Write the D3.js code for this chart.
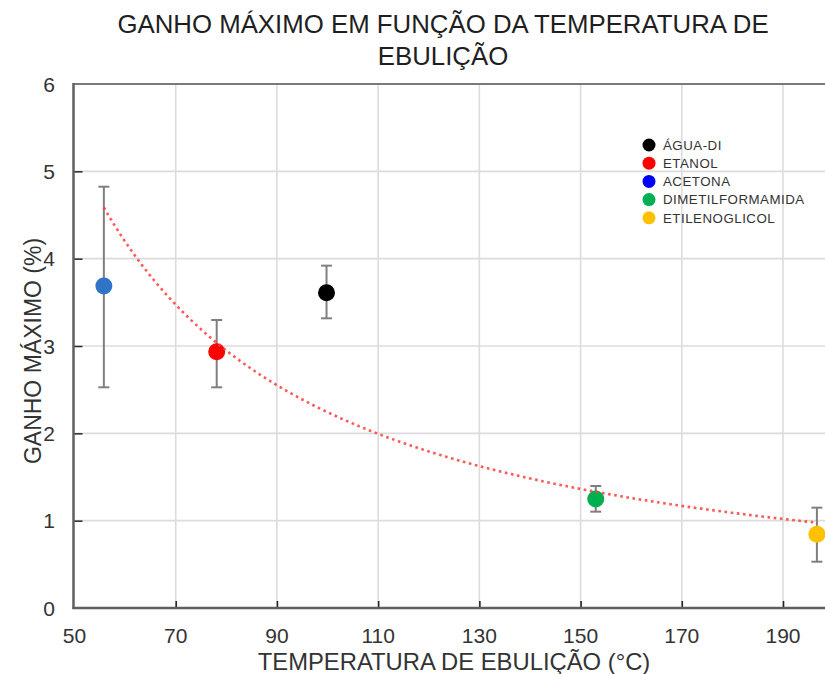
<!DOCTYPE html>
<html><head><meta charset="utf-8">
<script src="https://cdn.jsdelivr.net/npm/d3@7"></script>
<style>
body{margin:0;background:#fff}
svg{display:block}
text{font-family:"Liberation Sans",Arial,Helvetica,sans-serif}
</style>
</head><body>
<svg id="chart" width="825" height="674"></svg>
<script>
// ---- data ----
const categories = ["ÁGUA-DI", "ETANOL", "ACETONA", "DIMETILFORMAMIDA", "ETILENOGLICOL"];
const boilingPoints = [99.8, 78.1, 55.8, 153.0, 196.7];
const gains = [3.61, 2.935, 3.687, 1.248, 0.844];
const errLow = [3.317, 2.527, 2.527, 1.103, 0.53];
const errHigh = [3.92, 3.298, 4.824, 1.397, 1.149];
const pointColors = ["#000000", "#ff0000", "#2f74c9", "#00b050", "#ffc000"];
const legendColors = ["#000000", "#ff0000", "#0000ff", "#00b050", "#ffc000"];
const xTicks = [50, 70, 90, 110, 130, 150, 170, 190];
const yTicks = [0, 1, 2, 3, 4, 5, 6];
// power trendline y = a * x^b
const trendA = 637.7;
const trendB = -1.227;
const trendFrom = 55.8;
const trendTo = 196.8;
const titleLines = ["GANHO MÁXIMO EM FUNÇÃO DA TEMPERATURA DE", "EBULIÇÃO"];
const xTitle = "TEMPERATURA DE EBULIÇÃO (°C)";
const yTitle = "GANHO MÁXIMO (%)";

(function () {
// ---- layout ----
const svg = d3.select("#chart");
const x = d3.scaleLinear().domain([50, 200]).range([74.5, 74.5 + 150 * 5.0607]);
const y = d3.scaleLinear().domain([0, 6]).range([608, 84]);
const pLeft = 73.5, pBottom = 608, pTop = 84, pRight = 825;

// gridlines
svg.append("g").selectAll("line").data(yTicks.filter(d => d > 0 && d < 6)).join("line")
  .attr("x1", pLeft).attr("x2", pRight).attr("y1", d => y(d)).attr("y2", d => y(d))
  .attr("stroke", "#dcdcdc").attr("stroke-width", 1.6);
svg.append("g").selectAll("line").data(xTicks.filter(d => d > 50)).join("line")
  .attr("x1", d => x(d)).attr("x2", d => x(d)).attr("y1", pTop).attr("y2", pBottom)
  .attr("stroke", "#dcdcdc").attr("stroke-width", 1.6);

// top border
svg.append("line").attr("x1", pLeft).attr("x2", pRight).attr("y1", pTop).attr("y2", pTop)
  .attr("stroke", "#7a7a7a").attr("stroke-width", 2);

// axes
const yAxis = d3.axisRight(y).tickValues(yTicks.filter(d => d > 0 && d < 6)).tickSize(9).tickFormat("");
const gy = svg.append("g").attr("transform", `translate(${pLeft},0)`).call(yAxis);
gy.select(".domain").remove();
gy.selectAll(".tick line").attr("stroke", "#333").attr("stroke-width", 1.6);

const xAxis = d3.axisTop(x).tickValues(xTicks.filter(d => d > 50)).tickSize(7).tickFormat("");
const gx = svg.append("g").attr("transform", `translate(0,${pBottom})`).call(xAxis);
gx.select(".domain").remove();
gx.selectAll(".tick line").attr("stroke", "#222").attr("stroke-width", 1.6);

svg.append("line").attr("x1", pLeft).attr("x2", pLeft).attr("y1", pTop - 1).attr("y2", pBottom + 1)
  .attr("stroke", "#5f5f5f").attr("stroke-width", 2.5);
svg.append("line").attr("x1", pLeft - 1).attr("x2", pRight).attr("y1", pBottom).attr("y2", pBottom)
  .attr("stroke", "#5f5f5f").attr("stroke-width", 2.5);

// tick labels
svg.append("g").selectAll("text").data(yTicks).join("text")
  .attr("x", 55).attr("y", d => y(d)).attr("dy", "0.36em")
  .attr("text-anchor", "end").attr("font-size", 21).attr("fill", "#333")
  .text(d => d);
svg.append("g").selectAll("text").data(xTicks).join("text")
  .attr("x", d => x(d)).attr("y", 643)
  .attr("text-anchor", "middle").attr("font-size", 21).attr("fill", "#333")
  .text(d => d);

// axis titles
svg.append("text").attr("x", 454).attr("y", 670).attr("text-anchor", "middle")
  .attr("font-size", 23.8).attr("fill", "#333").text(xTitle);
svg.append("text").attr("transform", "translate(41,351) rotate(-90)").attr("text-anchor", "middle")
  .attr("font-size", 23).attr("fill", "#333").text(yTitle);

// chart title
svg.append("g").selectAll("text").data(titleLines).join("text")
  .attr("x", 443).attr("y", (d, i) => 33 + i * 32).attr("text-anchor", "middle")
  .attr("font-size", 25.8).attr("fill", "#1f1f1f").text(d => d);

// error bars
const idx = d3.range(categories.length);
const eb = svg.append("g").attr("stroke", "#7f7f7f").attr("stroke-width", 2);
eb.append("g").selectAll("line").data(idx).join("line")
  .attr("x1", i => x(boilingPoints[i])).attr("x2", i => x(boilingPoints[i]))
  .attr("y1", i => y(errLow[i])).attr("y2", i => y(errHigh[i]));
eb.append("g").selectAll("line").data(idx).join("line")
  .attr("x1", i => x(boilingPoints[i]) - 5.5).attr("x2", i => x(boilingPoints[i]) + 5.5)
  .attr("y1", i => y(errHigh[i])).attr("y2", i => y(errHigh[i]));
eb.append("g").selectAll("line").data(idx).join("line")
  .attr("x1", i => x(boilingPoints[i]) - 5.5).attr("x2", i => x(boilingPoints[i]) + 5.5)
  .attr("y1", i => y(errLow[i])).attr("y2", i => y(errLow[i]));

// points
svg.append("g").selectAll("circle").data(idx).join("circle")
  .attr("cx", i => x(boilingPoints[i])).attr("cy", i => y(gains[i]))
  .attr("r", 8.5).attr("fill", i => pointColors[i]);

// trendline
const trendX = d3.range(trendFrom, trendTo, 0.5).concat([trendTo]);
const line = d3.line().x(d => x(d)).y(d => y(trendA * Math.pow(d, trendB)));
svg.append("path").datum(trendX).attr("d", line)
  .attr("fill", "none").attr("stroke", "#ff3b3b").attr("stroke-width", 2.6)
  .attr("stroke-dasharray", "2.6,3.6").attr("opacity", 0.85);

// legend
const lg = svg.append("g");
lg.selectAll("circle").data(idx).join("circle")
  .attr("cx", 649).attr("cy", i => 145 + i * 18.2).attr("r", 6.5)
  .attr("fill", i => legendColors[i]);
lg.selectAll("text").data(idx).join("text")
  .attr("x", 663).attr("y", i => 145 + i * 18.2).attr("dy", "0.36em")
  .attr("font-size", 13.3).attr("letter-spacing", 0.5).attr("fill", "#333")
  .text(i => categories[i]);
})();
</script>
</body></html>
